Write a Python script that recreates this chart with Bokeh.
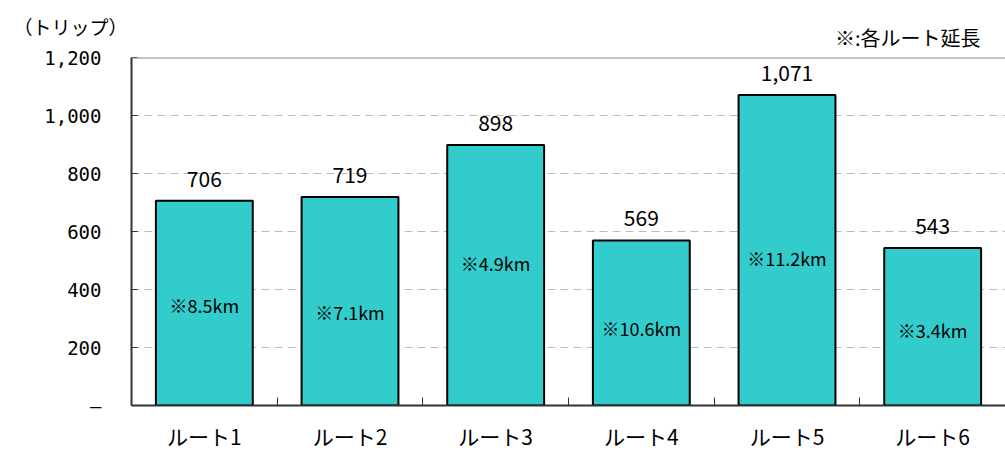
from bokeh.plotting import figure
from bokeh.models import ColumnDataSource, FixedTicker, Span, LabelSet, Title
from bokeh.core.properties import value
from bokeh.embed import file_html
from bokeh.resources import INLINE

routes = ["ルート1", "ルート2", "ルート3", "ルート4", "ルート5", "ルート6"]
trips = [706, 719, 898, 569, 1071, 543]
lengths = ["※8.5km", "※7.1km", "※4.9km", "※10.6km", "※11.2km", "※3.4km"]
length_label_y = [345, 324, 493, 266, 510, 262]
y_ticks = [0, 200, 400, 600, 800, 1000, 1200]

FONT = "Noto Sans CJK JP"
MONO = "DejaVu Sans Mono"

xs = [i + 0.5 for i in range(len(routes))]
src = ColumnDataSource(dict(
    x=xs, top=trips, vlab=[f"{v:,}" for v in trips],
    lab=lengths, ly=length_label_y,
))

p = figure(width=1005, height=453, x_range=(0, 6), y_range=(0, 1200),
           output_backend="svg", toolbar_location=None,
           min_border_left=131, min_border_right=0,
           min_border_top=57, min_border_bottom=48)
p.outline_line_color = None
p.background_fill_color = "white"
p.border_fill_color = "white"

p.vbar(x="x", top="top", width=0.665, bottom=0, source=src,
       fill_color="#33CCCC", line_color="black", line_width=2)

p.add_layout(LabelSet(x="x", y="top", text="vlab", source=src, text_align="center",
                      text_baseline="bottom", y_offset=14, text_font=value(FONT),
                      text_font_size="21px", text_color="black"))
p.add_layout(LabelSet(x="x", y="ly", text="lab", source=src, text_align="center",
                      text_baseline="middle", text_font=value(FONT),
                      text_font_size="18px", text_color="black"))

# grid
p.xgrid.visible = False
p.ygrid.ticker = FixedTicker(ticks=y_ticks[1:-1])
p.ygrid.grid_line_color = "#BBBBBB"
p.ygrid.grid_line_dash = "8 5"
p.ygrid.grid_line_width = 1
p.add_layout(Span(location=1200, dimension="width", line_color="#888888", line_width=2))

# y axis
p.yaxis.ticker = FixedTicker(ticks=y_ticks)
p.yaxis.major_label_overrides = {t: ("–" if t == 0 else f"{t:,}") for t in y_ticks}
p.yaxis.major_tick_in = 6
p.yaxis.major_tick_out = 0
p.yaxis.minor_tick_line_color = None
p.yaxis.axis_line_color = "#333333"
p.yaxis.axis_line_width = 2
p.yaxis.major_tick_line_color = "#333333"
p.yaxis.major_label_standoff = 30
p.yaxis.major_label_text_font = MONO
p.yaxis.major_label_text_font_size = "19px"
p.yaxis.major_label_text_color = "black"

# x axis
p.xaxis.ticker = FixedTicker(ticks=xs, minor_ticks=[1, 2, 3, 4, 5])
p.xaxis.major_label_overrides = {x: r for x, r in zip(xs, routes)}
p.xaxis.major_label_standoff = 15
p.xaxis.major_label_text_font = FONT
p.xaxis.major_label_text_font_size = "21px"
p.xaxis.major_label_text_color = "black"
p.xaxis.major_tick_line_color = None
p.xaxis.major_tick_in = 0
p.xaxis.major_tick_out = 0
p.xaxis.minor_tick_in = 8
p.xaxis.minor_tick_out = 0
p.xaxis.minor_tick_line_color = "#333333"
p.xaxis.axis_line_color = "#333333"
p.xaxis.axis_line_width = 2

p.title.text = "（トリップ）"
p.title.align = "left"
p.title.offset = -118
p.title.text_font = FONT
p.title.text_font_style = "normal"
p.title.text_font_size = "19px"
p.title.text_color = "black"
p.title.standoff = -48

note = Title(text="※:各ルート延長", align="right", offset=25, text_font=FONT,
             text_font_style="normal", text_font_size="20px", text_color="black",
             standoff=11)
p.add_layout(note, "above")

open("out.html", "w").write(file_html(p, INLINE))
